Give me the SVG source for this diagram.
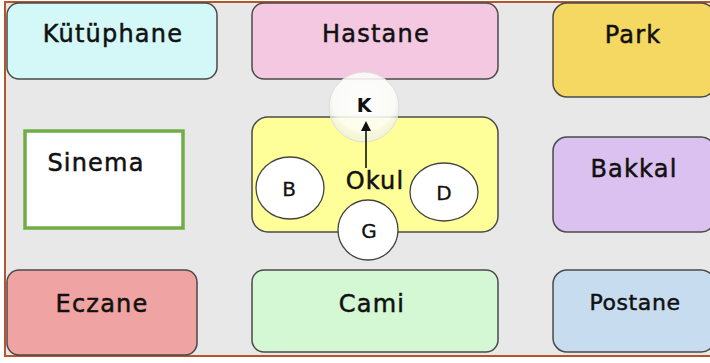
<svg xmlns="http://www.w3.org/2000/svg" width="710" height="363" viewBox="0 0 710 363">
<defs>
<style>
.box{stroke:#4a4a4a;stroke-width:1.5}
.lbl{font-family:"DejaVu Sans",sans-serif;font-size:24px;letter-spacing:1.2px;fill:#111;stroke:#111;stroke-width:0.5;text-anchor:middle}
.sm{font-family:"DejaVu Sans",sans-serif;font-size:20px;fill:#111;stroke:#111;stroke-width:0.3;text-anchor:middle}
.circ{fill:#fff;stroke:#444;stroke-width:1.3}
</style>
<marker id="ah" markerWidth="10" markerHeight="10" refX="5" refY="5" orient="auto" markerUnits="userSpaceOnUse"><path d="M0,0 L10,5 L0,10 z" fill="#111"/></marker>
<radialGradient id="kg" cx="0.5" cy="0.4" r="0.55"><stop offset="0" stop-color="#fff" stop-opacity="0.95"/><stop offset="0.8" stop-color="#fdfdf8" stop-opacity="0.85"/><stop offset="1" stop-color="#f0f0f0" stop-opacity="0.7"/></radialGradient>
</defs>
<rect x="0" y="0" width="710" height="363" fill="#fff"/>
<rect x="5" y="2" width="710" height="354" fill="#e8e8e8" stroke="#b5552a" stroke-width="2"/>
<g id="kutuphane"><rect class="box" x="7" y="3" width="210" height="76" rx="12" fill="#d4f7f7"/><text class="lbl" x="113" y="42">Kütüphane</text></g>
<g id="hastane"><rect class="box" x="252" y="3" width="246" height="76" rx="12" fill="#f3c8e0"/><text class="lbl" x="376" y="42">Hastane</text></g>
<g id="park"><rect class="box" x="553" y="3" width="162" height="94" rx="14" fill="#f5d862"/><text class="lbl" x="633" y="43">Park</text></g>
<g id="sinema"><rect x="25" y="131" width="158" height="97" fill="#fff" stroke="#70ad47" stroke-width="3.5"/><text class="lbl" x="96" y="171">Sinema</text></g>
<g id="okul"><rect class="box" x="252" y="117" width="246" height="115" rx="16" fill="#ffff99"/><text class="lbl" x="375" y="189">Okul</text></g>
<g id="bakkal"><rect class="box" x="553" y="137" width="162" height="95" rx="14" fill="#dbc1f0"/><text class="lbl" x="634" y="177">Bakkal</text></g>
<g id="eczane"><rect class="box" x="7" y="270" width="190" height="85" rx="12" fill="#f0a3a3"/><text class="lbl" x="102" y="312">Eczane</text></g>
<g id="cami"><rect class="box" x="252" y="270" width="246" height="82" rx="12" fill="#d4f7d4"/><text class="lbl" x="372" y="312">Cami</text></g>
<g id="postane"><rect class="box" x="553" y="270" width="162" height="82" rx="14" fill="#c8dcf0"/><text class="lbl" x="635" y="310" style="font-size:22px;letter-spacing:0.6px">Postane</text></g>
<g id="b"><ellipse class="circ" cx="290" cy="188" rx="34" ry="31"/><text class="sm" x="289" y="196">B</text></g>
<g id="d"><ellipse class="circ" cx="444" cy="192" rx="34" ry="29"/><text class="sm" x="444" y="200">D</text></g>
<g id="g"><circle class="circ" cx="368" cy="230" r="30"/><text class="sm" x="369" y="238">G</text></g>
<g id="k"><circle cx="364" cy="107" r="35" fill="url(#kg)" stroke="#dcdcdc" stroke-width="1"/><text class="sm" x="364" y="112" style="font-weight:bold;font-size:19px;stroke-width:0">K</text></g>
<g id="connectors"><line x1="366" y1="168" x2="366" y2="126" stroke="#111" stroke-width="1.6" marker-end="url(#ah)"/></g>
</svg>
